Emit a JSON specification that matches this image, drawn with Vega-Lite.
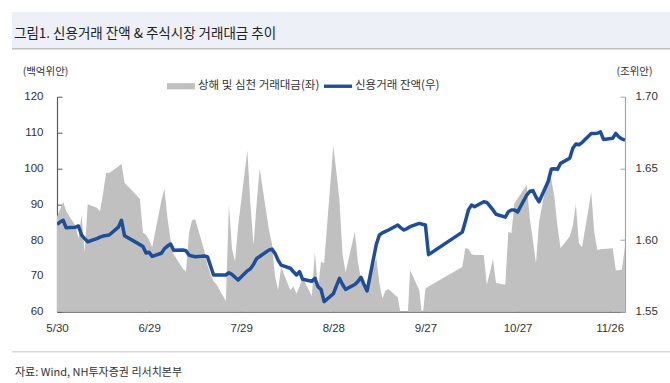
{
  "$schema": "https://vega.github.io/schema/vega-lite/v6.json",
  "padding": {"left": 12, "top": 12, "right": 0, "bottom": 0},
  "config": {"view": {"stroke": null}, "font": "Liberation Sans", "axis": {"grid": false}},
  "datasets": {
    "d": [
      {"date": "2023-05-30", "trade": 86.5, "credit": 1.611},
      {"date": "2023-05-31", "trade": 88.5, "credit": 1.6125},
      {"date": "2023-06-01", "trade": 90.7, "credit": 1.6138},
      {"date": "2023-06-02", "trade": 88, "credit": 1.6085},
      {"date": "2023-06-05", "trade": 84, "credit": 1.609},
      {"date": "2023-06-06", "trade": 80.5, "credit": 1.6098},
      {"date": "2023-06-07", "trade": 87, "credit": 1.6035},
      {"date": "2023-06-08", "trade": 76.5, "credit": 1.601},
      {"date": "2023-06-09", "trade": 90, "credit": 1.5988},
      {"date": "2023-06-12", "trade": 89, "credit": 1.601},
      {"date": "2023-06-13", "trade": 88, "credit": 1.602},
      {"date": "2023-06-14", "trade": 93, "credit": 1.6028},
      {"date": "2023-06-15", "trade": 98.8, "credit": 1.6032},
      {"date": "2023-06-16", "trade": 98.7, "credit": 1.6035},
      {"date": "2023-06-19", "trade": 100.5, "credit": 1.609},
      {"date": "2023-06-20", "trade": 101.3, "credit": 1.6138},
      {"date": "2023-06-21", "trade": 96, "credit": 1.603},
      {"date": "2023-06-26", "trade": 91.5, "credit": 1.5968},
      {"date": "2023-06-27", "trade": 82, "credit": 1.5955},
      {"date": "2023-06-28", "trade": 81.5, "credit": 1.591},
      {"date": "2023-06-29", "trade": 80, "credit": 1.5915},
      {"date": "2023-06-30", "trade": 78, "credit": 1.5886},
      {"date": "2023-07-03", "trade": 91, "credit": 1.5908},
      {"date": "2023-07-04", "trade": 94.3, "credit": 1.594},
      {"date": "2023-07-05", "trade": 86, "credit": 1.5958},
      {"date": "2023-07-06", "trade": 80, "credit": 1.5972},
      {"date": "2023-07-07", "trade": 76, "credit": 1.5928},
      {"date": "2023-07-10", "trade": 72, "credit": 1.593},
      {"date": "2023-07-11", "trade": 71.2, "credit": 1.5925},
      {"date": "2023-07-12", "trade": 82, "credit": 1.5895},
      {"date": "2023-07-13", "trade": 85.5, "credit": 1.5888},
      {"date": "2023-07-14", "trade": 85.8, "credit": 1.5884},
      {"date": "2023-07-17", "trade": 77, "credit": 1.5888},
      {"date": "2023-07-18", "trade": 73, "credit": 1.5884},
      {"date": "2023-07-19", "trade": 70.5, "credit": 1.582},
      {"date": "2023-07-20", "trade": 68.5, "credit": 1.5756},
      {"date": "2023-07-21", "trade": 67.5, "credit": 1.5756},
      {"date": "2023-07-24", "trade": 63, "credit": 1.5756},
      {"date": "2023-07-25", "trade": 90, "credit": 1.5772},
      {"date": "2023-07-26", "trade": 77.5, "credit": 1.576},
      {"date": "2023-07-27", "trade": 74, "credit": 1.574},
      {"date": "2023-07-28", "trade": 84, "credit": 1.5721},
      {"date": "2023-07-31", "trade": 105, "credit": 1.5785},
      {"date": "2023-08-01", "trade": 90, "credit": 1.58},
      {"date": "2023-08-02", "trade": 78.6, "credit": 1.583},
      {"date": "2023-08-03", "trade": 90, "credit": 1.587},
      {"date": "2023-08-04", "trade": 100, "credit": 1.5885},
      {"date": "2023-08-07", "trade": 83, "credit": 1.593},
      {"date": "2023-08-08", "trade": 79, "credit": 1.5937},
      {"date": "2023-08-09", "trade": 70, "credit": 1.5907},
      {"date": "2023-08-10", "trade": 66, "credit": 1.586},
      {"date": "2023-08-11", "trade": 72.5, "credit": 1.5825},
      {"date": "2023-08-14", "trade": 66, "credit": 1.5803},
      {"date": "2023-08-15", "trade": 67, "credit": 1.5779},
      {"date": "2023-08-16", "trade": 65, "credit": 1.5756},
      {"date": "2023-08-17", "trade": 67, "credit": 1.5779},
      {"date": "2023-08-18", "trade": 69.5, "credit": 1.5726},
      {"date": "2023-08-21", "trade": 64.4, "credit": 1.5712},
      {"date": "2023-08-22", "trade": 76.8, "credit": 1.5733},
      {"date": "2023-08-23", "trade": 66.4, "credit": 1.5675},
      {"date": "2023-08-24", "trade": 74, "credit": 1.5655},
      {"date": "2023-08-25", "trade": 73.5, "credit": 1.557},
      {"date": "2023-08-28", "trade": 106.3, "credit": 1.5625},
      {"date": "2023-08-29", "trade": 99, "credit": 1.568},
      {"date": "2023-08-30", "trade": 91, "credit": 1.5733},
      {"date": "2023-08-31", "trade": 76, "credit": 1.569},
      {"date": "2023-09-01", "trade": 71, "credit": 1.5656},
      {"date": "2023-09-04", "trade": 82.3, "credit": 1.569},
      {"date": "2023-09-05", "trade": 74, "credit": 1.571},
      {"date": "2023-09-06", "trade": 69, "credit": 1.574},
      {"date": "2023-09-07", "trade": 68, "credit": 1.569},
      {"date": "2023-09-08", "trade": 67.3, "credit": 1.5645},
      {"date": "2023-09-11", "trade": 75, "credit": 1.597},
      {"date": "2023-09-12", "trade": 68, "credit": 1.6035},
      {"date": "2023-09-13", "trade": 63.6, "credit": 1.605},
      {"date": "2023-09-14", "trade": 66, "credit": 1.606},
      {"date": "2023-09-15", "trade": 66.3, "credit": 1.607},
      {"date": "2023-09-18", "trade": 64, "credit": 1.6105},
      {"date": "2023-09-19", "trade": 59, "credit": 1.6085},
      {"date": "2023-09-20", "trade": 52, "credit": 1.607},
      {"date": "2023-09-21", "trade": 55, "credit": 1.608},
      {"date": "2023-09-22", "trade": 71.6, "credit": 1.6093},
      {"date": "2023-09-25", "trade": 66, "credit": 1.6116},
      {"date": "2023-09-26", "trade": 58, "credit": 1.611},
      {"date": "2023-09-27", "trade": 66.5, "credit": 1.6105},
      {"date": "2023-09-28", "trade": 67, "credit": 1.5898},
      {"date": "2023-10-09", "trade": 72.5, "credit": 1.6055},
      {"date": "2023-10-10", "trade": 77.8, "credit": 1.613},
      {"date": "2023-10-11", "trade": 77.5, "credit": 1.621},
      {"date": "2023-10-12", "trade": 76, "credit": 1.6244},
      {"date": "2023-10-13", "trade": 75.8, "credit": 1.6232},
      {"date": "2023-10-16", "trade": 75.8, "credit": 1.6267},
      {"date": "2023-10-17", "trade": 67.5, "credit": 1.6262},
      {"date": "2023-10-18", "trade": 71, "credit": 1.6237},
      {"date": "2023-10-19", "trade": 74.7, "credit": 1.621},
      {"date": "2023-10-20", "trade": 68, "credit": 1.618},
      {"date": "2023-10-23", "trade": 67.5, "credit": 1.616},
      {"date": "2023-10-24", "trade": 82.3, "credit": 1.6197},
      {"date": "2023-10-25", "trade": 81.9, "credit": 1.6209},
      {"date": "2023-10-26", "trade": 90.3, "credit": 1.6209},
      {"date": "2023-10-27", "trade": 91.5, "credit": 1.6195},
      {"date": "2023-10-30", "trade": 95.4, "credit": 1.6314},
      {"date": "2023-10-31", "trade": 86, "credit": 1.634},
      {"date": "2023-11-01", "trade": 80, "credit": 1.6345},
      {"date": "2023-11-02", "trade": 73.5, "credit": 1.63},
      {"date": "2023-11-03", "trade": 85, "credit": 1.6267},
      {"date": "2023-11-06", "trade": 98.7, "credit": 1.641},
      {"date": "2023-11-07", "trade": 97, "credit": 1.6495},
      {"date": "2023-11-08", "trade": 92, "credit": 1.6497},
      {"date": "2023-11-09", "trade": 84, "credit": 1.6493},
      {"date": "2023-11-10", "trade": 77.7, "credit": 1.6535},
      {"date": "2023-11-13", "trade": 81, "credit": 1.657},
      {"date": "2023-11-14", "trade": 84, "credit": 1.664},
      {"date": "2023-11-15", "trade": 90, "credit": 1.667},
      {"date": "2023-11-16", "trade": 79, "credit": 1.6665},
      {"date": "2023-11-17", "trade": 78, "credit": 1.668},
      {"date": "2023-11-20", "trade": 93.3, "credit": 1.6744},
      {"date": "2023-11-21", "trade": 82, "credit": 1.6744},
      {"date": "2023-11-22", "trade": 77.2, "credit": 1.6745},
      {"date": "2023-11-23", "trade": 77.4, "credit": 1.6755},
      {"date": "2023-11-24", "trade": 77.5, "credit": 1.6702},
      {"date": "2023-11-27", "trade": 77.7, "credit": 1.671},
      {"date": "2023-11-28", "trade": 71.6, "credit": 1.6744},
      {"date": "2023-11-29", "trade": 71.6, "credit": 1.672},
      {"date": "2023-11-30", "trade": 71.8, "credit": 1.6705},
      {"date": "2023-12-01", "trade": 78.2, "credit": 1.6697}
    ]
  },
  "vconcat": [
    {
      "vconcat": [
        {
          "width": 658, "height": 36,
          "data": {"values": []},
          "mark": "point",
          "view": {"fill": "#edf1f7", "stroke": null},
          "title": {"text": "그림1. 신용거래 잔액 & 주식시장 거래대금 추이", "orient": "top", "anchor": "start", "frame": "group", "offset": -28, "dx": 2, "font": "Noto Sans CJK KR", "fontSize": 13.5, "fontWeight": "normal", "color": "#222222"}
        },
        {
          "width": 658, "height": 1.5,
          "data": {"values": []},
          "mark": "point",
          "view": {"fill": "#bfbfbf", "stroke": null}
        }
      ],
      "spacing": 0,
      "bounds": "flush"
    },
    {
      "vconcat": [
        {
          "width": 568, "height": 215,
          "data": {"name": "d"},
          "encoding": {
            "x": {
              "field": "date", "type": "temporal",
              "scale": {"type": "utc", "domain": [{"year": 2023, "month": 5, "date": 30, "utc": true}, {"year": 2023, "month": 12, "date": 1, "utc": true}]},
              "axis": {
                "title": null,
                "labelExpr": "utcFormat(datum.value, '%-m/%-d')",
                "values": [
                  {"year": 2023, "month": 5, "date": 30, "utc": true},
                  {"year": 2023, "month": 6, "date": 29, "utc": true},
                  {"year": 2023, "month": 7, "date": 29, "utc": true},
                  {"year": 2023, "month": 8, "date": 28, "utc": true},
                  {"year": 2023, "month": 9, "date": 27, "utc": true},
                  {"year": 2023, "month": 10, "date": 27, "utc": true},
                  {"year": 2023, "month": 11, "date": 26, "utc": true}
                ],
                "tickSize": -5, "tickColor": "#595959", "domainColor": "#595959", "domainWidth": 1.2,
                "labelFont": "Liberation Sans", "labelFontSize": 11.5, "labelColor": "#333333", "labelPadding": 16, "labelFlush": false
              }
            }
          },
          "layer": [
            {
              "mark": {"type": "area", "clip": true},
              "encoding": {
                "y": {
                  "field": "trade", "type": "quantitative",
                  "scale": {"domain": [60, 120], "zero": false, "nice": false},
                  "axis": {
                    "values": [60, 70, 80, 90, 100, 110, 120],
                    "title": "(백억위안)", "titleAngle": 0, "titleX": -12, "titleY": -25, "titleAlign": "center", "titleBaseline": "middle",
                    "titleFont": "Noto Sans CJK KR", "titleFontSize": 10.5, "titleFontWeight": "normal", "titleColor": "#333333",
                    "tickSize": -5, "tickColor": "#595959", "domainColor": "#595959", "domainWidth": 1.2,
                    "labelFont": "Liberation Sans", "labelFontSize": 11.5, "labelColor": "#333333", "labelPadding": 19
                  }
                },
                "color": {
                  "datum": "상해 및 심천 거래대금(좌)", "type": "nominal",
                  "scale": {"domain": ["상해 및 심천 거래대금(좌)", "신용거래 잔액(우)"], "range": ["#c0c0c0", "#1f4e99"]},
                  "legend": {
                    "orient": "none", "legendX": 155, "legendY": 60, "direction": "horizontal", "title": null, "padding": 0,
                    "labelFont": "Noto Sans CJK KR", "labelFontSize": 11.5, "labelColor": "#333333", "labelOffset": 3, "columnPadding": 4,
                    "symbolSize": 784, "symbolStrokeWidth": 0, "symbolOpacity": 1,
                    "encode": {
                      "symbols": {
                        "update": {
                          "shape": {"signal": "datum.value === '신용거래 잔액(우)' ? 'M-1,-0.12H1V0.12H-1Z' : 'M-1,-0.22H1V0.22H-1Z'"},
                          "fill": {"scale": "color", "field": "value"},
                          "strokeWidth": {"value": 0},
                          "opacity": {"value": 1}
                        }
                      }
                    }
                  }
                }
              }
            },
            {
              "mark": {"type": "line", "strokeWidth": 3.5, "clip": true, "strokeJoin": "round"},
              "encoding": {
                "y": {
                  "field": "credit", "type": "quantitative",
                  "scale": {"domain": [1.55, 1.70], "zero": false, "nice": false},
                  "axis": {
                    "orient": "right", "values": [1.55, 1.6, 1.65, 1.7], "format": ".2f",
                    "title": "(조위안)", "titleAngle": 0, "titleX": 9, "titleY": -25, "titleAlign": "center", "titleBaseline": "middle",
                    "titleFont": "Noto Sans CJK KR", "titleFontSize": 10.5, "titleFontWeight": "normal", "titleColor": "#333333",
                    "tickSize": -5, "tickColor": "#a6a6a6", "domainColor": "#a6a6a6", "domainWidth": 1.2,
                    "labelFont": "Liberation Sans", "labelFontSize": 11.5, "labelColor": "#333333", "labelPadding": 15
                  }
                },
                "color": {"datum": "신용거래 잔액(우)", "type": "nominal"}
              }
            }
          ],
          "resolve": {"scale": {"y": "independent"}}
        },
        {
          "width": 658, "height": 1.5,
          "data": {"values": []},
          "mark": "point",
          "view": {"fill": "#d9d9d9", "stroke": null},
          "title": {"text": "자료: Wind, NH투자증권 리서치본부", "orient": "bottom", "anchor": "start", "frame": "group", "offset": 14, "dx": 3, "font": "Noto Sans CJK KR", "fontSize": 11, "fontWeight": "normal", "color": "#333333"}
        }
      ],
      "spacing": 39.3,
      "bounds": "flush",
      "center": true
    }
  ],
  "spacing": 84.7,
  "bounds": "flush",
  "center": true
}
